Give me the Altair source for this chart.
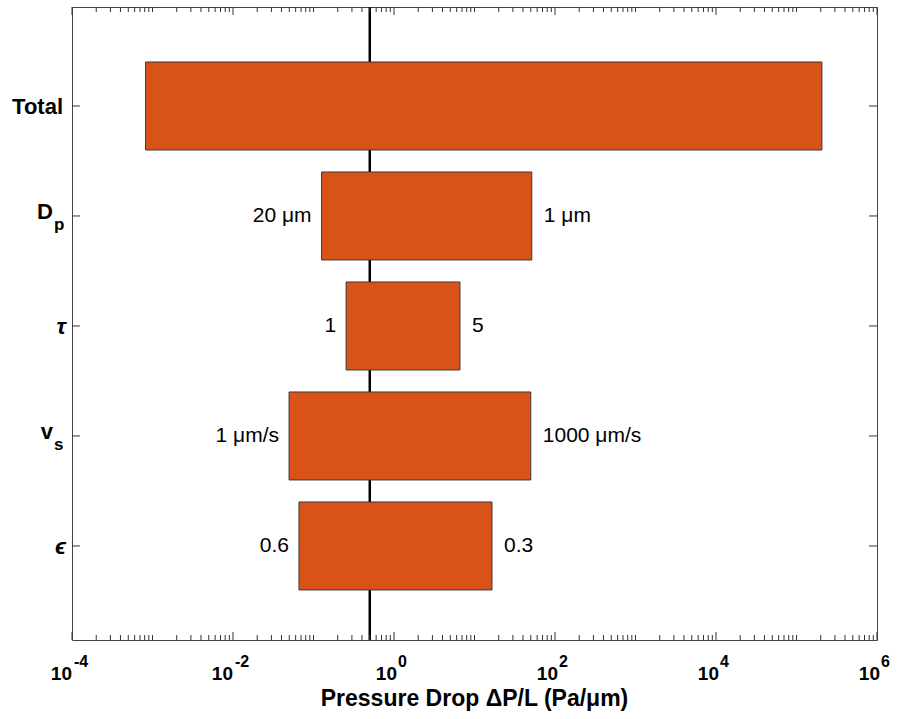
import altair as alt
import pandas as pd

# ---- data ----
params = ["Total", "Dp", "tau", "vs", "eps"]
positions = [5, 4, 3, 2, 1]
low_vals = [8.2e-4, 0.126, 0.254, 0.0497, 0.066]
high_vals = [2.07e5, 51.5, 6.6, 50.0, 16.5]
low_labels = ["", "20 μm", "1", "1 μm/s", "0.6"]
high_labels = ["", "1 μm", "5", "1000 μm/s", "0.3"]
ylab_main = ["Total", "D", "τ", "v", "ϵ"]
ylab_sub = ["", "p", "", "s", ""]
ylab_kind = ["plain", "sub", "greek", "sub", "greek"]
reference_value = [0.5]

major_ticks = [1e-4, 1e-2, 1e0, 1e2, 1e4, 1e6]
major_exps = ["-4", "-2", "0", "2", "4", "6"]
minor_ticks = [m * 10.0 ** k for k in range(-4, 6) for m in range(1, 10)
               if not (m == 1 and k % 2 == 0)]

W, H = 805, 633
FONT = "Liberation Sans, Helvetica, Arial, DejaVu Sans"

df = pd.DataFrame({
    "param": params, "pos": positions, "lo": low_vals, "hi": high_vals,
    "lo_lab": low_labels, "hi_lab": high_labels,
    "main": ylab_main, "sub": ylab_sub, "kind": ylab_kind,
})
df_ref = pd.DataFrame({"v": reference_value})
df_major = pd.DataFrame({"v": major_ticks, "e": major_exps})
df_major["neg"] = df_major["e"].str.startswith("-")
df_minor = pd.DataFrame({"v": minor_ticks})

xscale = alt.Scale(type="log", domain=[1e-4, 1e6], nice=False)
yscale = alt.Scale(domain=[0.145, 5.9], nice=False, zero=False)

base = alt.Chart(df)

ref_line = alt.Chart(df_ref).mark_rule(color="black", strokeWidth=2.5).encode(
    x=alt.X("v:Q", scale=xscale, axis=None),
    y=alt.value(0), y2=alt.value(H),
)

bars = base.transform_calculate(
    y0="datum.pos - 0.4", y1="datum.pos + 0.4"
).mark_bar(color="#D95319", stroke="#3a3a3a", strokeWidth=1).encode(
    x=alt.X("lo:Q", scale=xscale, axis=None),
    x2="hi:Q",
    y=alt.Y("y0:Q", scale=yscale, axis=None),
    y2="y1:Q",
)

txt_style = dict(font=FONT, fontSize=21, color="black", baseline="middle")
lo_text = base.mark_text(align="right", dx=-10, **txt_style).encode(
    x=alt.X("lo:Q", scale=xscale), y=alt.Y("pos:Q", scale=yscale), text="lo_lab:N")
hi_text = base.mark_text(align="left", dx=12, **txt_style).encode(
    x=alt.X("hi:Q", scale=xscale), y=alt.Y("pos:Q", scale=yscale), text="hi_lab:N")

# y-axis labels
ylab_plain = base.transform_filter("datum.kind == 'plain'").mark_text(
    align="right", baseline="alphabetic", dy=8, font=FONT, fontSize=22,
    fontWeight="bold", color="black").encode(
    x=alt.value(-9), y=alt.Y("pos:Q", scale=yscale), text="main:N")
ylab_greek = base.transform_filter("datum.kind == 'greek'").mark_text(
    align="right", baseline="alphabetic", dy=8, font=FONT, fontSize=23,
    fontWeight="bold", fontStyle="italic", color="black").encode(
    x=alt.value(-6), y=alt.Y("pos:Q", scale=yscale), text="main:N")
ylab_letter = base.transform_filter("datum.kind == 'sub'").mark_text(
    align="right", baseline="alphabetic", dy=3, font=FONT, fontSize=22,
    fontWeight="bold", color="black").encode(
    x=alt.value(-19), y=alt.Y("pos:Q", scale=yscale), text="main:N")
ylab_sub_t = base.transform_filter("datum.kind == 'sub'").mark_text(
    align="left", baseline="alphabetic", dy=14, font=FONT, fontSize=17,
    fontWeight="bold", color="black").encode(
    x=alt.value(-18), y=alt.Y("pos:Q", scale=yscale), text="sub:N")

# y ticks (left and right, inward)
tick_col = "#333333"
yt_left = base.mark_rule(color=tick_col, strokeWidth=1).encode(
    y=alt.Y("pos:Q", scale=yscale), x=alt.value(0), x2=alt.value(8))
yt_right = base.mark_rule(color=tick_col, strokeWidth=1).encode(
    y=alt.Y("pos:Q", scale=yscale), x=alt.value(W - 8), x2=alt.value(W))

# x ticks (bottom and top, inward)
def xticks(d, length):
    bot = alt.Chart(d).mark_rule(color=tick_col, strokeWidth=1).encode(
        x=alt.X("v:Q", scale=xscale), y=alt.value(H), y2=alt.value(H - length))
    top = alt.Chart(d).mark_rule(color=tick_col, strokeWidth=1).encode(
        x=alt.X("v:Q", scale=xscale), y=alt.value(0), y2=alt.value(length))
    return bot + top

minor_t = xticks(df_minor, 5)
major_t = xticks(df_major, 8)

# x tick labels 10^k
lab_style = dict(font=FONT, fontWeight="bold", color="black", baseline="alphabetic")
ten_neg = alt.Chart(df_major).transform_filter("datum.neg").mark_text(
    align="right", dx=0, fontSize=19, **lab_style).encode(
    x=alt.X("v:Q", scale=xscale), y=alt.value(H + 40), text=alt.value("10"))
ten_pos = alt.Chart(df_major).transform_filter("!datum.neg").mark_text(
    align="right", dx=3, fontSize=19, **lab_style).encode(
    x=alt.X("v:Q", scale=xscale), y=alt.value(H + 40), text=alt.value("10"))
exp_neg = alt.Chart(df_major).transform_filter("datum.neg").mark_text(
    align="left", dx=2, fontSize=16, **lab_style).encode(
    x=alt.X("v:Q", scale=xscale), y=alt.value(H + 27), text="e:N")
exp_pos = alt.Chart(df_major).transform_filter("!datum.neg").mark_text(
    align="left", dx=4, fontSize=16, **lab_style).encode(
    x=alt.X("v:Q", scale=xscale), y=alt.value(H + 27), text="e:N")

xtitle = alt.Chart(df_ref).mark_text(
    align="center", baseline="alphabetic", font=FONT, fontSize=23,
    fontWeight="bold", color="black").encode(
    x=alt.value(W / 2), y=alt.value(H + 66),
    text=alt.value("Pressure Drop ΔP/L (Pa/μm)"))

chart = alt.layer(
    ref_line, bars, lo_text, hi_text,
    ylab_plain, ylab_greek, ylab_letter, ylab_sub_t,
    yt_left, yt_right, minor_t, major_t,
    ten_neg, ten_pos, exp_neg, exp_pos, xtitle,
).properties(
    width=W, height=H,
    autosize=alt.AutoSizeParams(type="none"),
    padding={"left": 72, "top": 7, "right": 22, "bottom": 79},
    background="white",
).configure_view(stroke="#444444", strokeWidth=1)

chart.save("out.html", embed_options={"renderer": "svg", "actions": False})
